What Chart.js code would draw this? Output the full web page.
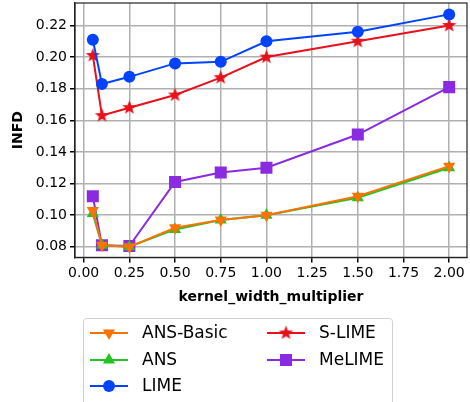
<!DOCTYPE html>
<html>
<head>
<meta charset="utf-8">
<script src="https://cdn.jsdelivr.net/npm/chart.js@4"></script>
<style>
  html, body { margin: 0; padding: 0; background: #fff; }
  #wrap { width: 470px; height: 402px; position: relative; }
</style>
</head>
<body>
<div id="wrap"><canvas id="infdChart"></canvas></div>
<script>
// data
const kernelWidth = [0.05, 0.1, 0.25, 0.5, 0.75, 1.0, 1.5, 2.0];
const ansBasic = [0.103, 0.081, 0.080, 0.092, 0.097, 0.100, 0.112, 0.131];
const ans      = [0.101, 0.081, 0.080, 0.091, 0.097, 0.100, 0.111, 0.130];
const lime     = [0.211, 0.183, 0.1875, 0.196, 0.197, 0.210, 0.216, 0.227];
const sLime    = [0.201, 0.163, 0.168, 0.176, 0.187, 0.200, 0.210, 0.220];
const meLime   = [0.112, 0.081, 0.0805, 0.121, 0.127, 0.130, 0.151, 0.181];
const xTicks = [0, 0.25, 0.5, 0.75, 1.0, 1.25, 1.5, 1.75, 2.0];
const yTicks = [0.08, 0.10, 0.12, 0.14, 0.16, 0.18, 0.20, 0.22];

const FONT = 'DejaVu Sans';

// filled 5 point star like matplotlib's '*'
function starImage(color, outer) {
    const c = document.createElement('canvas');
    const s = Math.ceil(outer * 2 + 2);
    c.width = s; c.height = s;
    const g = c.getContext('2d');
    const inner = outer * 0.42;
    g.beginPath();
    for (let i = 0; i < 10; i++) {
        const r = i % 2 ? inner : outer;
        const a = -Math.PI / 2 + i * Math.PI / 5;
        g.lineTo(s / 2 + r * Math.cos(a), s / 2 + r * Math.sin(a));
    }
    g.closePath();
    g.fillStyle = color;
    g.fill();
    return c;
}

function series(label, values, color, style, rot, size) {
    return {
        label: label,
        data: values.map((v, i) => ({ x: kernelWidth[i], y: v })),
        borderColor: color,
        backgroundColor: color,
        borderWidth: 2,
        pointStyle: style,
        rotation: rot,
        pointRadius: size,
        pointBorderWidth: 0,
        fill: false,
        tension: 0
    };
}

const datasets = [
    series('ANS-Basic', ansBasic, '#f97306', 'triangle', 180, 7),
    series('ANS', ans, '#22c322', 'triangle', 0, 7),
    series('LIME', lime, '#0343ff', 'circle', 0, 6),
    series('S-LIME', sLime, '#e8101a', starImage('#e8101a', 7.5), 0, 7),
    series('MeLIME', meLime, '#8a2be2', 'rect', 0, 8.5)
];

// full frame round the plot + legend in two columns (column-major like the original)
const columnLegend = {
    id: 'columnLegend',
    afterDraw(chart) {
        const ctx = chart.ctx;
        const a = chart.chartArea;
        ctx.save();
        ctx.strokeStyle = '#222';
        ctx.lineWidth = 1.2;
        ctx.strokeRect(a.left, a.top, a.right - a.left, a.bottom - a.top);

        const cols = [[0, 1, 2], [3, 4]];
        const colX = [90, 267];
        const rowY = [333, 360, 386];
        ctx.strokeStyle = '#d0d0d0';
        ctx.lineWidth = 1;
        ctx.beginPath();
        ctx.roundRect(83.5, 318.5, 309, 95, 3);
        ctx.stroke();
        ctx.font = '17px ' + FONT;
        ctx.textBaseline = 'middle';
        cols.forEach((col, c) => {
            col.forEach((idx, r) => {
                const ds = chart.data.datasets[idx];
                const x = colX[c], y = rowY[r];
                ctx.strokeStyle = ds.borderColor;
                ctx.lineWidth = 2;
                ctx.beginPath();
                ctx.moveTo(x, y);
                ctx.lineTo(x + 38, y);
                ctx.stroke();
                ctx.fillStyle = ds.backgroundColor;
                Chart.helpers.drawPoint(ctx, {
                    pointStyle: ds.pointStyle,
                    rotation: ds.rotation,
                    radius: ds.pointRadius,
                    borderWidth: 0
                }, x + 19, y);
                ctx.fillStyle = '#000';
                ctx.fillText(ds.label, x + 52, y + 1);
            });
        });
        ctx.restore();
    }
};

new Chart(document.getElementById('infdChart'), {
    type: 'line',
    data: { datasets: datasets },
    options: {
        responsive: true,
        maintainAspectRatio: false,
        animation: false,
        layout: { autoPadding: false, padding: { top: 3, right: 3, bottom: 92, left: 0 } },
        plugins: {
            legend: { display: false },
            tooltip: { enabled: false }
        },
        scales: {
            x: {
                type: 'linear',
                min: -0.0475,
                max: 2.0975,
                afterBuildTicks: s => { s.ticks = xTicks.map(v => ({ value: v })); },
                afterFit: s => { s.paddingRight = 0; s.paddingLeft = 0; },
                ticks: {
                    font: { family: FONT, size: 14 },
                    color: '#000',
                    maxRotation: 0,
                    callback: v => v.toFixed(2)
                },
                grid: { color: '#b0b0b0', lineWidth: 1.5, tickColor: '#000', tickLength: 5 },
                border: { color: '#222', width: 1.2 },
                title: {
                    display: true,
                    text: 'kernel_width_multiplier',
                    font: { family: FONT, size: 14, weight: 'bold' },
                    color: '#000',
                    padding: { top: 4 }
                }
            },
            y: {
                min: 0.0733,
                max: 0.2342,
                afterBuildTicks: s => { s.ticks = yTicks.map(v => ({ value: v })); },
                afterFit: s => { s.width = 75; s.paddingTop = 0; s.paddingBottom = 0; },
                ticks: {
                    font: { family: FONT, size: 14 },
                    color: '#000',
                    callback: v => v.toFixed(2)
                },
                grid: { color: '#b0b0b0', lineWidth: 1.5, tickColor: '#000', tickLength: 5 },
                border: { color: '#222', width: 1.2 },
                title: {
                    display: true,
                    text: 'INFD',
                    font: { family: FONT, size: 14, weight: 'bold' },
                    color: '#000',
                    padding: { top: 10, bottom: 4 }
                }
            }
        }
    },
    plugins: [columnLegend]
});
</script>
</body>
</html>
